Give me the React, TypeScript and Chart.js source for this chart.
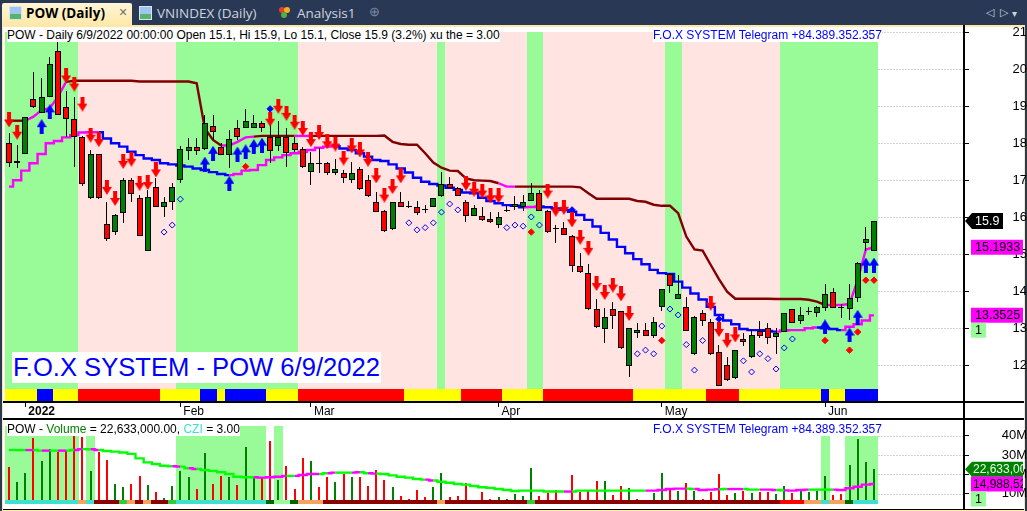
import React, { useEffect, useRef } from "react";
import { Chart, registerables } from "chart.js";

Chart.register(...registerables);

// ---------- price data (index 0 .. 106) ----------
const opens = [18.0,17.46,17.7,19.19,18.83,19.24,20.49,18.99,18.65,18.16,16.51,17.7,15.82,15.59,16.11,17.01,16.51,15.1,16.81,16.29,16.4,17.01,17.8,17.89,17.84,18.48,17.89,17.69,18.4,18.4,18.4,18.54,18.18,17.94,18.18,18.0,17.84,17.23,17.44,17.46,17.19,17.19,17.01,17.3,17.01,16.4,16.17,15.69,16.4,16.31,16.29,16.22,16.29,16.58,16.89,16.8,16.4,16.04,16.04,15.95,15.8,16.2,16.29,16.27,16.45,16.65,16.18,15.72,15.7,15.5,14.69,14.5,13.51,12.99,13.51,13.46,11.99,12.87,12.95,12.8,13.57,14.47,13.8,13.58,12.3,13.4,13.16,12.35,12.0,11.65,12.71,12.22,12.94,13.0,12.76,12.9,13.51,13.21,13.48,13.4,13.56,13.99,13.57,13.51,13.81,15.3,15.1];
const highs = [18.27,17.95,18.72,19.92,19.76,20.34,20.75,19.4,19.24,18.2,17.82,17.72,16.4,16.08,17.05,17.05,16.6,16.74,17.05,16.56,16.94,17.93,18.13,18.13,18.76,18.76,18.0,18.36,18.63,18.92,18.76,18.6,18.59,18.59,18.4,18.18,17.9,17.77,17.86,17.5,17.57,17.28,17.5,17.35,17.14,16.69,16.2,16.42,16.69,16.45,16.44,16.33,16.53,17.23,17.1,16.82,16.47,16.33,16.27,16.13,16.13,16.33,16.58,16.6,16.92,16.74,16.2,15.79,15.86,15.52,15.03,14.74,13.78,13.54,13.72,13.48,13.02,13.13,13.13,13.31,14.07,14.5,14.44,13.84,13.32,13.49,13.24,12.55,12.23,12.42,12.88,12.95,13.2,13.13,13.0,13.42,13.52,13.58,13.58,13.6,14.2,14.08,13.66,14.2,14.78,15.73,15.9];
const lows = [17.37,17.33,17.7,18.95,18.83,19.24,18.77,18.18,17.37,16.85,16.5,16.49,15.37,15.53,15.84,16.42,15.5,15.09,16.28,16.02,16.2,16.92,17.55,17.68,17.82,18.09,17.69,17.32,18.1,18.4,18.4,18.3,17.46,17.8,17.37,17.76,17.33,16.87,17.19,17.15,17.15,16.92,16.92,16.75,16.56,16.13,15.61,15.66,16.27,16.26,16.06,16.11,16.27,16.56,16.78,16.57,15.88,16.03,15.91,15.85,15.7,16.15,16.2,16.18,16.43,16.17,15.58,15.31,15.52,14.53,14.5,13.5,13.02,12.59,12.97,12.45,11.68,12.73,12.79,12.73,13.48,13.95,13.79,12.93,12.29,13.07,12.29,11.44,11.58,11.64,12.53,12.21,12.73,12.58,12.31,12.89,13.13,13.12,13.36,13.3,13.48,13.54,13.29,13.22,13.72,15.1,15.1];
const closes = [17.46,17.51,18.7,18.99,19.24,20.13,18.77,18.65,18.16,16.89,17.7,16.51,15.41,16.06,17.01,16.63,15.5,16.54,16.29,16.4,16.81,17.84,17.89,17.8,18.54,18.3,17.69,18.11,18.18,18.59,18.54,18.4,17.8,18.16,17.75,17.82,17.35,17.46,17.47,17.19,17.3,17.05,17.19,16.76,16.58,16.15,15.64,16.4,16.29,16.29,16.11,16.2,16.51,16.89,16.8,16.58,16.04,16.24,15.93,15.86,16.0,16.18,16.36,16.4,16.65,16.18,15.59,15.7,15.53,14.69,14.51,13.51,13.04,13.3,13.34,12.46,13.0,12.95,12.8,13.17,14.05,14.15,13.92,12.94,13.3,13.21,12.3,11.45,11.6,12.4,12.64,12.81,12.8,12.75,12.87,13.4,13.15,13.35,13.46,13.57,13.94,13.56,13.55,13.81,14.76,15.4,15.9];

const upperLine = [18.61,18.61,18.61,18.72,18.9,18.95,19.26,19.66,19.69,19.69,19.69,19.69,19.69,19.69,19.69,19.69,19.67,19.67,19.67,19.67,19.67,19.67,19.67,19.62,18.4,18.09,17.94,17.94,18.04,18.16,18.18,18.2,18.2,18.2,18.2,18.2,18.2,18.2,18.2,18.2,18.2,18.2,18.2,18.2,18.2,18.2,18.21,18.04,17.98,17.96,17.96,17.73,17.48,17.34,17.26,17.25,17.05,17.0,16.99,16.98,16.92,16.83,16.83,16.83,16.83,16.83,16.83,16.83,16.83,16.83,16.81,16.65,16.5,16.5,16.5,16.5,16.5,16.44,16.42,16.34,16.31,16.31,16.11,15.48,15.13,15.1,14.71,14.33,13.99,13.8,13.8,13.8,13.8,13.8,13.79,13.79,13.79,13.79,13.77,13.72,13.63,13.63,13.63,13.66,14.3,15.13,15.19];
const upperLineMagenta = [3,4,5,6,7,27,28,29,30,36,37,61,62,101,102,103,104,105,106];
const lowerLine = [16.83,17.0,17.26,17.46,17.71,18.0,18.06,18.16,18.22,18.29,18.3,18.3,18.13,18.0,17.91,17.77,17.68,17.59,17.55,17.46,17.43,17.4,17.37,17.32,17.28,17.22,17.17,17.14,17.17,17.26,17.28,17.41,17.55,17.62,17.68,17.73,17.77,17.82,17.88,17.91,17.92,17.86,17.82,17.73,17.64,17.55,17.52,17.43,17.32,17.21,17.07,16.96,16.9,16.86,16.8,16.74,16.67,16.65,16.53,16.44,16.38,16.33,16.31,16.27,16.28,16.29,16.27,16.24,16.2,16.15,16.06,15.93,15.75,15.58,15.4,15.2,15.03,14.87,14.73,14.58,14.49,14.47,14.26,14.1,13.94,13.78,13.58,13.36,13.21,13.11,12.98,12.95,12.95,12.93,12.91,12.94,12.95,12.95,13.0,13.02,13.0,12.98,12.95,13.04,13.11,13.21,13.35];
const lowerLineMagenta = [0,1,2,3,4,5,6,7,8,9,10,11,28,29,30,31,32,33,34,35,36,37,38,39,40,64,65,95,96,97,98,99,103,104,105,106];

// marker [index, value]
const sellArrows = [[0,18.63],[1,18.3],[7,19.82],[8,19.6],[9,19.06],[10,18.22],[11,18.1],[12,16.81],[13,16.51],[14,17.51],[15,17.57],[16,16.92],[17,16.94],[18,17.28],[32,18.65],[33,19.0],[34,18.81],[35,18.57],[36,18.4],[37,18.1],[38,18.29],[39,18.04],[40,17.98],[41,17.6],[42,17.93],[43,17.82],[44,17.57],[45,17.12],[46,16.6],[47,16.83],[48,17.12],[56,16.92],[57,16.76],[58,16.71],[59,16.58],[60,16.58],[66,16.71],[67,16.22],[68,16.27],[69,15.93],[70,15.46],[71,15.16],[72,14.21],[73,13.97],[74,14.17],[75,13.93],[76,13.4],[86,13.68],[87,12.97],[88,12.68],[89,12.82]];
const buyArrows = [[4,18.45],[5,18.85],[24,17.44],[25,17.73],[27,16.92],[28,17.71],[29,17.77],[30,17.91],[31,17.95],[100,13.04],[103,12.82],[104,13.3],[105,14.71],[106,14.71]];
const blueDots = [[32,18.93],[69,16.2],[87,13.25]];
const redDots = [[29,17.37],[64,15.6],[80,12.67],[100,12.67],[103,12.41],[104,12.9],[105,14.3],[106,14.3]];
const hollowDots = [[19,15.6],[20,15.79],[21,16.49],[49,15.85],[50,15.66],[51,15.72],[52,15.85],[53,16.14],[54,16.36],[55,16.2],[61,15.72],[62,15.79],[63,15.76],[64,16.01],[65,15.79],[77,12.31],[78,12.41],[79,12.31],[80,13.06],[81,13.52],[82,13.36],[83,12.56],[84,11.87],[85,12.67],[90,12.12],[91,11.82],[92,12.31],[93,12.18],[94,11.9],[95,12.47],[96,12.71]];

// runs of colour [first, last, code]
const regionRuns = [[0,8,"g"],[9,20,"p"],[21,35,"g"],[36,52,"p"],[53,53,"g"],[54,63,"p"],[64,65,"g"],[66,80,"p"],[81,82,"g"],[83,94,"p"],[95,106,"g"]];
const ribbonRuns = [[0,3,"y"],[4,5,"b"],[6,8,"y"],[9,18,"r"],[19,23,"y"],[24,25,"b"],[26,26,"y"],[27,31,"b"],[32,35,"y"],[36,48,"r"],[49,55,"y"],[56,60,"r"],[61,65,"y"],[66,76,"r"],[77,85,"y"],[86,89,"r"],[90,99,"y"],[100,100,"b"],[101,102,"y"],[103,106,"b"]];

// ---------- volume data, millions ----------
const volumes = [24,16.2,20.9,38.7,26.9,33.1,31.8,32.6,40.1,39.6,21.8,31.8,27.5,15,13.3,15,19.2,14.5,10.9,7.6,14,21.8,18.8,12.4,30.9,15,19.2,18.5,14.5,34.4,18.5,18.5,37.5,17.1,24.4,12.4,28.5,26.9,13.3,18.5,16.1,20.2,18.5,18.5,14,22.3,17.1,13.3,8.8,7.4,11.9,8.1,13.3,20.6,8.1,8.8,15.4,6.2,10.9,7.4,8.1,7.3,9.7,8.8,23.1,8.8,10.5,11.9,5.9,19.7,11.1,11.9,16.6,16.6,9.3,14,12.8,7.3,5.9,10.5,20.6,12.8,11.4,15.4,11.6,7.3,11.1,20.2,9.3,10.5,11.4,10.2,10.9,11.1,9.9,14,10.5,11.4,11.1,11.6,19.2,9.3,9.9,24.9,38.2,26.4,22.633];
const volumeRed = [0,3,6,7,8,9,11,12,15,16,18,23,25,26,28,31,32,34,35,36,38,39,41,43,44,45,46,48,49,50,51,54,55,56,58,59,65,66,67,68,69,70,71,72,74,75,78,81,83,85,86,87,88,90,92,93,96,101,102];
const volumeAverage = [32.6,32.6,32.6,32.6,32.3,32.3,32.3,32.3,32.6,33.1,33,32.6,32.1,31.8,31.3,30.6,28.3,26.2,25.4,24.5,24.2,24,23.2,22.8,22.3,21.8,21.1,20.2,18.8,18.5,18.5,18.3,18.5,18.8,19.2,19.2,19.7,20.2,20.2,20.6,20.9,20.9,20.9,21.1,20.6,20.4,20.2,19.5,18.8,18.3,17.6,17.3,16.8,16.2,15.7,15,14.7,14,13.3,13,12.4,11.9,11.4,11.6,11.6,11.6,11.1,11.1,11.1,11.1,11.6,11.6,11.6,11.6,11.6,11.6,11.6,11.6,11.6,11.6,11.9,12.4,12.6,12.6,12.4,11.9,12.1,12.3,12.4,12.4,12.4,12.1,12.1,12.1,11.9,11.7,11.6,11.9,12.1,12.1,12.1,12.1,11.9,12.8,13.6,14.7,14.99];
const volumeAverageMagenta = [3,5,7,9,11,21,23,31,32,33,34,36,37,38,40,43,45,52,69,79,80,81,82,83,85,86,87,89,90,93,94,96,97,98,102,103,104,105,106];
const volumeRegionRuns = [[0,8],[10,10],[21,31],[33,33],[100,100],[103,106]];
const volumeRibbonRuns = [[0,8,"t"],[9,9,"o"],[10,10,"t"],[11,13,"d"],[14,14,"l"],[15,15,"o"],[16,16,"d"],[17,17,"o"],[18,19,"d"],[20,20,"l"],[21,31,"t"],[32,32,"k"],[33,33,"m"],[34,34,"m"],[35,35,"k"],[36,36,"o"],[37,38,"o"],[39,52,"d"],[53,53,"o"],[54,63,"d"],[64,64,"l"],[65,94,"d"],[95,97,"r"],[98,99,"o"],[100,100,"t"],[101,102,"o"],[103,103,"k"],[104,106,"t"]];

const monthTicks = [2, 21, 37, 60, 80, 100];
const monthLabels = ["2022", "Feb", "Mar", "Apr", "May", "Jun"];

const LAST_CLOSE = 15.9, LAST_UPPER = 15.1933, LAST_LOWER = 13.3525;
const LAST_VOL = 22.633, LAST_AVG = 14.98852;

const X_MIN = -0.613, X_MAX = 117.03;
const P_MIN = 11.008, P_MAX = 21.17, REGION_LOW = 11.36, REGION_HIGH = 21, RIBBON_LOW = 11.03;
const V_MIN = 2.07, V_MAX = 49.2, V_RIBBON_LOW = 4.66, V_RIBBON_HIGH = 6.73, V_REGION_HIGH = 45.1;

const C = { green: "#008000", red: "#ff0000", blue: "#0000ff", magenta: "#ff00ff", maroon: "#800000", lime: "#00ff00", pale: "#98fb98", pink: "#ffe4e1", yellow: "#ffff00" };
const ribbonColor: Record<string, string> = { y: C.yellow, b: C.blue, r: C.red, g: C.pale, p: C.pink, t: "#40e0d0", o: "#f4a460", d: "#8b0000", l: "#32cd32", k: "#006400", m: "#98fb98" };
const FONT = '"Liberation Sans", Arial, sans-serif';
const UI_FONT = '"Open Sans", sans-serif';
const idx = volumes.map((_, i) => i);

const expand = (runs: any[]) => {
  const out: string[] = [];
  runs.forEach(([a, b, c]) => { for (let i = a; i <= b; i++) out[i] = ribbonColor[c]; });
  return out;
};

const noPad = (s: any) => { s.paddingTop = s.paddingBottom = s.paddingLeft = s.paddingRight = 0; };

function arrowImage(color: string, down: boolean) {
  const cv = document.createElement("canvas");
  cv.width = 10; cv.height = 15;
  const g = cv.getContext("2d")!;
  g.fillStyle = color;
  if (down) { g.translate(0, 15); g.scale(1, -1); }
  g.beginPath();
  g.moveTo(5, 0); g.lineTo(10, 8); g.lineTo(7, 8); g.lineTo(7, 15); g.lineTo(3, 15); g.lineTo(3, 8); g.lineTo(0, 8);
  g.closePath(); g.fill();
  return cv;
}

const snapBars = {
  id: "snapBars",
  beforeDatasetsDraw(chart: any) {
    chart.data.datasets.forEach((ds: any, i: number) => {
      const meta = chart.getDatasetMeta(i);
      if (meta.type !== "bar") return;
      meta.data.forEach((el: any) => {
        el.x = el.width % 2 ? Math.floor(el.x) + 0.5 : Math.round(el.x);
        el.y = Math.round(el.y);
        el.base = Math.round(el.base);
        if (Math.abs(el.y - el.base) < 1) el.base = el.y + 1;
      });
    });
  },
};

const gridTail = {
  id: "gridTail",
  beforeDatasetsDraw(chart: any) {
    const { ctx, chartArea } = chart;
    const sx = chart.scales.x, sy = chart.scales.y;
    const x0 = sx.getPixelForValue(106.55);
    ctx.save();
    ctx.strokeStyle = "#a8a8a8";
    ctx.setLineDash([1, 2]);
    ctx.lineWidth = 1;
    sy.ticks.forEach((t: any) => {
      const y = Math.round(sy.getPixelForValue(t.value)) + 0.5;
      ctx.beginPath(); ctx.moveTo(x0, y); ctx.lineTo(chartArea.right, y); ctx.stroke();
    });
    ctx.restore();
  },
};

function tag(ctx: any, y: number, text: string, bg: string, fg: string, x0: number, x1: number, pointed: boolean, h = 15, pad = 4, size = 12.5) {
  ctx.save();
  ctx.fillStyle = bg;
  ctx.beginPath();
  const top = y - h / 2, bot = y + h / 2;
  if (pointed) { ctx.moveTo(965, y); ctx.lineTo(x0, top); } else ctx.moveTo(x0, top);
  ctx.lineTo(x1, top); ctx.lineTo(x1, bot); ctx.lineTo(x0, bot);
  ctx.closePath(); ctx.fill();
  ctx.beginPath(); ctx.rect(x0, top, x1 - x0, h); ctx.clip();
  ctx.fillStyle = fg;
  ctx.font = size + "px " + FONT;
  ctx.textAlign = "left";
  ctx.textBaseline = "middle";
  ctx.fillText(text, x0 + pad, y + 0.5);
  ctx.restore();
}

const priceTags = {
  id: "priceTags",
  afterDraw(chart: any) {
    const { ctx } = chart, s = chart.scales.y;
    tag(ctx, s.getPixelForValue(LAST_CLOSE), String(LAST_CLOSE), "#000", "#fff", 972, 1003, true, 16, 3);
    const a = s.getPixelForValue(LAST_UPPER), b = s.getPixelForValue(LAST_LOWER);
    tag(ctx, a, LAST_UPPER.toFixed(4), C.magenta, "#000", 971, 1023, false);
    tag(ctx, b, LAST_LOWER.toFixed(4), C.magenta, "#000", 971, 1023, false);
    tag(ctx, b + 15, "1", C.pale, "#000", 971, 986, false);
  },
};

const volumeTags = {
  id: "volumeTags",
  afterDraw(chart: any) {
    const { ctx } = chart, s = chart.scales.y;
    tag(ctx, s.getPixelForValue(LAST_VOL), "22,633,000", C.green, "#e8ffe8", 972, 1023, true, 15, 1, 12);
    const a = s.getPixelForValue(LAST_AVG);
    tag(ctx, a, "14,988,524", C.magenta, "#000", 971, 1023, false, 15, 2, 12);
    tag(ctx, a + 15, "1", C.pale, "#000", 971, 986, false);
  },
};

const baseOptions = (): any => ({
  responsive: false,
  animation: false,
  events: [],
  plugins: { legend: { display: false }, tooltip: { enabled: false } },
});

const floatBar = (label: string, ys: any[], color: any, width: number, order: number, extra: any = {}) => ({
  type: "bar", label, order, grouped: false, barThickness: width, backgroundColor: color,
  borderWidth: 0, inflateAmount: 0, borderSkipped: false,
  data: ys.map((y, i) => ({ x: i, y })),
  ...extra,
});

const marker = (label: string, pts: number[][], style: any, color: string, border: string, radius: number, order = 10) => ({
  type: "scatter", label, order, showLine: false, pointStyle: style, pointRadius: radius,
  backgroundColor: color, borderColor: border, pointBorderWidth: 1,
  data: pts.map(([x, y]) => ({ x, y })),
});

const lineSet = (label: string, vals: number[], hi: number[], hiColor: string, loColor: string, order: number, stepped: any) => ({
  type: "line", label, order, stepped, tension: 0, pointRadius: 0, borderWidth: 2.4, borderColor: loColor,
  data: vals.map((y, i) => ({ x: i, y })),
  segment: { borderColor: (c: any) => (hi.includes(c.p1DataIndex) ? hiColor : loColor) },
});

export default function App() {
  const priceRef = useRef<HTMLCanvasElement>(null);
  const volRef = useRef<HTMLCanvasElement>(null);

  useEffect(() => {
    const regionColors = expand(regionRuns);
    const ribbonColors = expand(ribbonRuns);
    const candleColors = idx.map((i) => (closes[i] >= opens[i] ? C.green : C.red));

    const price = new Chart(priceRef.current!, {
      data: {
        datasets: [
          floatBar("region", idx.map(() => [REGION_LOW, REGION_HIGH]), regionColors, 9, 100),
          floatBar("ribbon", idx.map(() => [RIBBON_LOW, REGION_LOW]), ribbonColors, 9, 99),
          lineSet("upper", upperLine, upperLineMagenta, C.magenta, C.maroon, 60, false),
          lineSet("lower", lowerLine, lowerLineMagenta, C.magenta, C.blue, 59, "middle"),
          floatBar("wick", idx.map((i) => [lows[i], highs[i]]), "#000", 1, 50),
          floatBar("body", idx.map((i) => [opens[i], closes[i]]), candleColors, 6, 49, { borderWidth: 1, borderColor: "#000" }),
          marker("sell", sellArrows, arrowImage(C.red, true), C.red, C.red, 6),
          marker("buy", buyArrows, arrowImage(C.blue, false), C.blue, C.blue, 6),
          marker("hollow", hollowDots, "rectRot", "rgba(0,0,0,0)", C.blue, 3),
          marker("reddot", redDots, "rectRot", C.red, C.red, 3.2),
          marker("bluedot", blueDots, "rectRot", C.blue, C.blue, 3.2),
        ] as any,
      },
      plugins: [snapBars, gridTail, priceTags],
      options: {
        ...baseOptions(),
        layout: { autoPadding: false, padding: { left: 4, top: 26, right: 0, bottom: 0 } },
        scales: {
          x: {
            type: "linear", offset: false, min: X_MIN, max: X_MAX, position: "bottom",
            afterFit: (s: any) => { s.height = 16; noPad(s); },
            afterBuildTicks: (s: any) => { s.ticks = monthTicks.map((value) => ({ value })); },
            border: { color: "#000", width: 2 },
            grid: { offset: false, drawOnChartArea: false, tickLength: 5, tickColor: "#000" },
            ticks: {
              autoSkip: false, maxRotation: 0, align: "start", padding: -3, labelOffset: 3, color: "#000",
              font: (c: any) => ({ family: FONT, size: 12, weight: c.index === 0 ? "bold" : "normal" }),
              callback: (v: any) => monthLabels[monthTicks.indexOf(v)],
            },
          },
          y: {
            type: "linear", position: "right", min: P_MIN, max: P_MAX,
            afterFit: (s: any) => { s.width = 63; noPad(s); },
            border: { color: "#000", width: 2 },
            grid: { drawOnChartArea: false, tickLength: 5, tickColor: "#000" },
            ticks: { stepSize: 1, includeBounds: false, crossAlign: "far", padding: 28, color: "#000", font: { family: FONT, size: 13 } },
          },
        },
      } as any,
    });

    const regionV = expand(volumeRegionRuns.map(([a, b]) => [a, b, "g"]));
    const volColors = idx.map((i) => (volumeRed.includes(i) ? C.red : C.green));
    const volRibbon = expand(volumeRibbonRuns);
    const volume = new Chart(volRef.current!, {
      data: {
        datasets: [
          floatBar("vregion", idx.map((i) => (regionV[i] ? [V_RIBBON_LOW, V_REGION_HIGH] : null)), C.pale, 9, 100),
          lineSet("avg", volumeAverage, volumeAverageMagenta, C.magenta, C.lime, 40, "middle"),
          floatBar("volume", volumes.map((v) => [V_RIBBON_HIGH, v]), volColors, 2, 50),
          floatBar("vribbon", idx.map(() => [V_RIBBON_LOW, V_RIBBON_HIGH]), volRibbon, 9, 45),
        ] as any,
      },
      plugins: [snapBars, gridTail, volumeTags],
      options: {
        ...baseOptions(),
        layout: { autoPadding: false, padding: { left: 4, top: 0, right: 0, bottom: 2 } },
        scales: {
          x: { type: "linear", offset: false, min: X_MIN, max: X_MAX, display: false },
          y: {
            type: "linear", position: "right", min: V_MIN, max: V_MAX,
            afterFit: (s: any) => { s.width = 63; noPad(s); },
            border: { color: "#000", width: 2 },
            grid: { drawOnChartArea: false, tickLength: 5, tickColor: "#000" },
            ticks: { stepSize: 10, includeBounds: false, crossAlign: "far", padding: 17, color: "#000", font: { family: FONT, size: 13 }, callback: (v: any) => (v % 10 === 0 ? v + "M" : "") },
          },
        },
      } as any,
    });
    return () => { price.destroy(); volume.destroy(); };
  }, []);

  const abs = (l: number, t: number, w?: number, h?: number): any => ({ position: "absolute", left: l, top: t, width: w, height: h });
  const caption = (l: number, t: number, children: any, color = "#000", extra: any = {}) => (
    <div style={{ ...abs(l, t), font: "12px " + FONT, color, background: "#fff", lineHeight: "14px", whiteSpace: "nowrap", ...extra }}>{children}</div>
  );
  const icon = (l: number) => (
    <div style={{ ...abs(l, 6, 13, 14), background: "linear-gradient(#9fc6ee 0 55%, #59b36a 55% 100%)", border: "1px solid #d8e4f0", boxSizing: "border-box" }} />
  );
  const rule = (l: number, t: number, w: number, h: number) => <div style={{ ...abs(l, t, w, h), background: "#000" }} />;

  return (
    <div style={{ position: "fixed", left: 0, top: 0, width: 1027, height: 511, overflow: "hidden", background: "#293955" }}>
      <div style={{ ...abs(2, 25, 1023, 486), background: "#ffe8a6" }} />
      <div style={{ ...abs(3, 27, 1021, 483), background: "#fff" }} />
      <div style={{ ...abs(2, 3, 130, 23), background: "linear-gradient(#fff6d8,#ffe8a6)", borderRadius: "2px 2px 0 0" }} />
      {icon(9)}
      <div style={{ ...abs(26, 4), font: "bold 13.5px " + UI_FONT, color: "#000", whiteSpace: "nowrap" }}>POW (Daily)</div>
      <div style={{ ...abs(119, 4), font: "14px " + FONT, color: "#6a6a6a" }}>×</div>
      {icon(139)}
      <div style={{ ...abs(157, 4), font: "13.5px " + UI_FONT, color: "#ced4df", whiteSpace: "nowrap" }}>VNINDEX (Daily)</div>
      <div style={{ ...abs(279, 7, 6, 6), background: "#e04030", borderRadius: 3 }} />
      <div style={{ ...abs(284, 7, 6, 6), background: "#f0b020", borderRadius: 3 }} />
      <div style={{ ...abs(281, 12, 6, 6), background: "#50b040", borderRadius: 3 }} />
      <div style={{ ...abs(297, 4), font: "13.5px " + UI_FONT, color: "#ced4df", whiteSpace: "nowrap" }}>Analysis1</div>
      <div style={{ ...abs(369, 4), font: "13px " + FONT, color: "#7c8aa5" }}>⊕</div>
      <div style={{ ...abs(986, 6), font: "11px " + FONT, color: "#ced4df" }}>◁</div>
      <div style={{ ...abs(1000, 6), font: "11px " + FONT, color: "#ced4df" }}>▷</div>
      <div style={{ ...abs(1012, 8), font: "10px " + FONT, color: "#ced4df" }}>▾</div>

      <canvas ref={priceRef} width={1027} height={418} style={{ ...abs(0, 0), display: "block" }} />
      <canvas ref={volRef} width={1027} height={93} style={{ ...abs(0, 418), display: "block" }} />

      {rule(3, 401, 1021, 2)}
      {rule(3, 418, 1021, 2)}
      {rule(3, 509, 1021, 1)}
      {rule(963, 27, 2, 482)}

      {caption(7, 28, "POW - Daily 6/9/2022 00:00:00 Open 15.1, Hi 15.9, Lo 15.1, Close 15.9 (3.2%) xu the = 3.00")}
      {caption(653, 28, "F.O.X SYSTEM Telegram +84.389.352.357", C.blue)}
      {caption(7, 422, <span>POW - <span style={{ color: "#008000" }}>Volume</span> = 22,633,000.00, <span style={{ color: "#40e0d0" }}>CZI</span> = 3.00</span>)}
      {caption(653, 422, "F.O.X SYSTEM Telegram +84.389.352.357", C.blue)}
      {caption(12, 352, "F.O.X SYSTEM - POW 6/9/2022", C.blue, { font: "25.6px " + FONT, lineHeight: "31px", padding: "0 1px" })}
    </div>
  );
}
